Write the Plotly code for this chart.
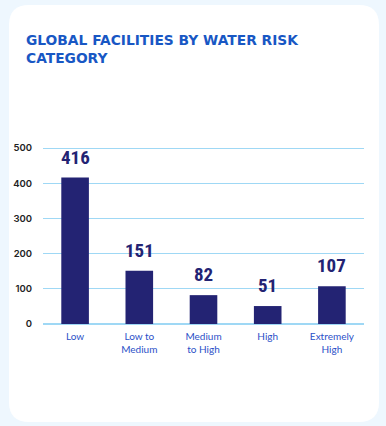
import plotly.graph_objects as go

categories = ["Low", "Low to<br>Medium", "Medium<br>to High", "High", "Extremely<br>High"]
values = [416, 151, 82, 51, 107]
y_ticks = [0, 100, 200, 300, 400, 500]

W, H = 386, 426
ML, MR, MT, MB = 43, 22, 145, 102
PW, PH = W - ML - MR, H - MT - MB
Y_MAX = 500 * PH / (PH - 3)  # keep the 500 gridline a few pixels inside the plot

def px(x):
    return (x - ML) / PW

def py(y):
    return (H - MB - y) / PH

# rounded card
x0, x1, y0, y1, r = 9, 379, 5, 422, 20
path = (
    f"M {px(x0 + r)} {py(y0)} L {px(x1 - r)} {py(y0)} "
    f"Q {px(x1)} {py(y0)} {px(x1)} {py(y0 + r)} "
    f"L {px(x1)} {py(y1 - r)} Q {px(x1)} {py(y1)} {px(x1 - r)} {py(y1)} "
    f"L {px(x0 + r)} {py(y1)} Q {px(x0)} {py(y1)} {px(x0)} {py(y1 - r)} "
    f"L {px(x0)} {py(y0 + r)} Q {px(x0)} {py(y0)} {px(x0 + r)} {py(y0)} Z"
)

fig = go.Figure()
fig.add_trace(go.Bar(
    x=categories, y=values,
    marker=dict(color="#232373", line=dict(width=0)),
    width=0.43,
    hoverinfo="skip",
))

for c, v in zip(categories, values):
    fig.add_annotation(
        x=c, y=v, text=str(v), showarrow=False,
        yanchor="bottom", yshift=7,
        font=dict(family="Liberation Sans Narrow, Roboto Condensed, Roboto, sans-serif",
                  size=19, color="#232373", weight="bold"),
    )

fig.add_annotation(
    xref="paper", yref="paper", x=px(24), y=py(30),
    xanchor="left", yanchor="top", align="left", showarrow=False,
    text="<b>GLOBAL FACILITIES BY WATER RISK<br>CATEGORY</b>",
    font=dict(family="DejaVu Sans, sans-serif", size=13.8, color="#1857c4"),
)

fig.update_layout(
    width=W, height=H,
    margin=dict(l=ML, r=MR, t=MT, b=MB, pad=0),
    paper_bgcolor="#eef7fe",
    plot_bgcolor="rgba(0,0,0,0)",
    showlegend=False,
    bargap=0.57,
    hovermode=False,
    shapes=[dict(type="path", path=path, xref="paper", yref="paper",
                 fillcolor="white", line=dict(width=0), layer="below")],
    xaxis=dict(
        tickfont=dict(family="Lato, Noto Sans, sans-serif", size=10, color="#2b50c8"),
        showgrid=False, ticks="outside", ticklen=3, tickcolor="rgba(0,0,0,0)",
        showline=False, zeroline=False, automargin=False,
    ),
    yaxis=dict(
        range=[0, Y_MAX], tickvals=y_ticks, automargin=False,
        tickfont=dict(family="Inter, Noto Sans, sans-serif", size=9.5, color="#222222", weight=600),
        gridcolor="#9fd8f5", gridwidth=1, zeroline=True, zerolinecolor="#9fd8f5",
        showline=False, ticks="outside", ticklen=8, tickcolor="rgba(0,0,0,0)",
    ),
)

fig.write_html("out.html", config={"displayModeBar": False},
               post_script="document.body.style.margin='0';")
